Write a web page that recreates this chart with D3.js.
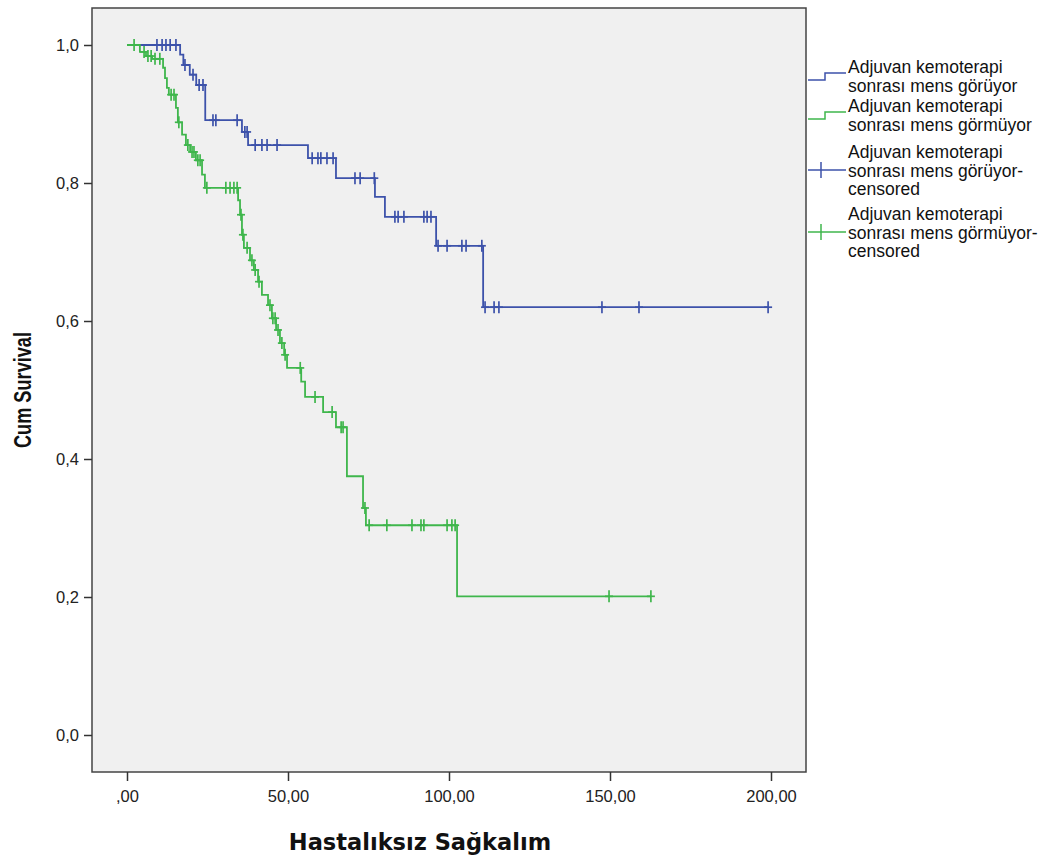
<!DOCTYPE html>
<html>
<head>
<meta charset="utf-8">
<script src="https://cdn.jsdelivr.net/npm/d3@7"></script>
<style>
  body { margin: 0; background: #fff; }
  svg { display: block; }
  .tick text { font-family: "Liberation Sans", Arial, sans-serif; font-size: 16.5px; fill: #222; }
  .tick line { stroke: #333; stroke-width: 1.5; }
  .leg { font-family: "Liberation Sans", Arial, sans-serif; font-size: 17.5px; fill: #111; }
</style>
</head>
<body>
<svg width="1061" height="862"></svg>
<script>

// axis ticks
var xTicks = [0, 50, 100, 150, 200];
var xTickLabels = [",00", "50,00", "100,00", "150,00", "200,00"];
var yTicks = [0, 0.2, 0.4, 0.6, 0.8, 1.0];
var yTickLabels = ["0,0", "0,2", "0,4", "0,6", "0,8", "1,0"];

// adjuvan kemoterapi sonrasi mens goruyor (blue) - event times / survival after event
var blueTimes = [16.5, 17.5, 19.5, 21.5, 24.3, 35.7, 37.6, 56.2, 64.9, 77.0, 80.1, 96.0, 110.6];
var blueSurv  = [0.986, 0.971, 0.957, 0.942, 0.891, 0.874, 0.855, 0.836, 0.807, 0.780, 0.751, 0.709, 0.620];
var blueCensor = [9.3, 10.9, 12.1, 13.4, 15.2, 18.0, 20.5, 22.4, 23.6, 26.7, 27.6, 34.2, 36.6, 37.3,
  39.8, 41.9, 43.5, 46.6, 57.5, 59.3, 60.2, 62.1, 64.0, 70.8, 72.4, 76.8, 83.2, 84.2, 86.0,
  92.2, 93.2, 94.4, 96.6, 99.4, 104.0, 105.3, 110.2, 111.2, 114.0, 115.5, 147.5, 159.0, 199.1];

// adjuvan kemoterapi sonrasi mens gormuyor (green)
var greenTimes = [4.0, 5.9, 7.8, 11.2, 11.8, 12.4, 13.0, 15.2, 15.8, 17.1, 18.3, 19.6, 21.4, 23.3, 24.2,
  34.5, 35.1, 35.7, 36.3, 38.2, 39.4, 40.7, 41.9, 43.8, 45.0, 46.3, 47.5, 48.8, 49.7, 54.1, 55.3,
  60.9, 64.9, 68.3, 73.3, 74.2, 102.5];
var greenSurv = [0.990, 0.984, 0.980, 0.967, 0.952, 0.938, 0.928, 0.909, 0.888, 0.870, 0.855, 0.845, 0.833, 0.812, 0.793,
  0.775, 0.754, 0.725, 0.706, 0.688, 0.674, 0.657, 0.638, 0.623, 0.604, 0.587, 0.568, 0.551, 0.532, 0.512, 0.490,
  0.468, 0.446, 0.375, 0.329, 0.304, 0.201];
var greenCensor = [2.2, 5.3, 6.5, 7.5, 8.7, 10.2, 13.7, 14.6, 16.1, 18.9, 20.2, 20.8, 22.0, 22.7,
  24.8, 30.7, 32.0, 33.2, 34.2, 35.4, 36.0, 37.3, 38.8, 39.8, 41.0, 44.4, 45.3, 46.0, 46.9, 48.1, 49.1,
  53.8, 58.4, 63.7, 66.5, 67.1, 73.9, 75.2, 80.7, 88.5, 91.3, 92.2, 99.4, 100.9, 101.9, 149.7, 162.7];

var legendLabels = [
  ["Adjuvan kemoterapi", "sonrası mens görüyor"],
  ["Adjuvan kemoterapi", "sonrası mens görmüyor"],
  ["Adjuvan kemoterapi", "sonrası mens görüyor-", "censored"],
  ["Adjuvan kemoterapi", "sonrası mens görmüyor-", "censored"]
];

var blue = "#3d52aa", green = "#3fb64c";

var svg = d3.select("svg");
var plot = {left: 92, right: 806, top: 8, bottom: 772};

var x = d3.scaleLinear().domain([0, 200]).range([127, 771]);
var y = d3.scaleLinear().domain([0, 1]).range([735, 45]);

// plot background + frame
svg.append("rect")
  .attr("x", plot.left).attr("y", plot.top)
  .attr("width", plot.right - plot.left).attr("height", plot.bottom - plot.top)
  .attr("fill", "#f0f0f0").attr("stroke", "#444").attr("stroke-width", 1.5);

// axes
var xAxis = svg.append("g")
  .attr("transform", "translate(0," + plot.bottom + ")")
  .call(d3.axisBottom(x).tickValues(xTicks).tickSize(9).tickPadding(9)
    .tickFormat(function(d, i) { return xTickLabels[i]; }));
xAxis.select(".domain").remove();

var yAxis = svg.append("g")
  .attr("transform", "translate(" + plot.left + ",0)")
  .call(d3.axisLeft(y).tickValues(yTicks).tickSize(8).tickPadding(5)
    .tickFormat(function(d, i) { return yTickLabels[i]; }));
yAxis.select(".domain").remove();

// axis titles
svg.append("text")
  .attr("x", 420).attr("y", 850)
  .attr("text-anchor", "middle")
  .style("font-family", "DejaVu Sans, sans-serif").style("font-weight", "bold").style("font-size", "22.5px")
  .attr("fill", "#111")
  .text("Hastalıksız Sağkalım");

svg.append("text")
  .attr("transform", "translate(31,390) rotate(-90)")
  .attr("text-anchor", "middle")
  .attr("textLength", 116).attr("lengthAdjust", "spacingAndGlyphs")
  .style("font-family", "Liberation Sans, Arial, sans-serif").style("font-weight", "bold").style("font-size", "23px")
  .attr("fill", "#111")
  .text("Cum Survival");

function survAt(times, surv, t) {
  var s = 1;
  for (var i = 0; i < times.length; i++) { if (times[i] <= t) s = surv[i]; }
  return s;
}

var line = d3.line()
  .x(function(d) { return x(d[0]); })
  .y(function(d) { return y(d[1]); })
  .curve(d3.curveStepAfter);

function drawGroup(times, surv, censor, colour) {
  var pts = [[0, 1]];
  times.forEach(function(t, i) { pts.push([t, surv[i]]); });
  var last = d3.max(censor.concat(times));
  pts.push([last, surv[surv.length - 1]]);

  var g = svg.append("g");
  g.append("path")
    .attr("d", line(pts))
    .attr("fill", "none").attr("stroke", colour).attr("stroke-width", 1.8);

  var marks = g.selectAll("g.cens").data(censor).enter().append("g").attr("class", "cens")
    .attr("transform", function(t) { return "translate(" + x(t) + "," + y(survAt(times, surv, t)) + ")"; });
  marks.append("line").attr("x1", 0).attr("x2", 0).attr("y1", -6).attr("y2", 6)
    .attr("stroke", colour).attr("stroke-width", 1.7);
  marks.append("line").attr("x1", -4).attr("x2", 4).attr("y1", 0).attr("y2", 0)
    .attr("stroke", colour).attr("stroke-width", 1.7);
}

drawGroup(blueTimes, blueSurv, blueCensor, blue);
drawGroup(greenTimes, greenSurv, greenCensor, green);

// legend
var legTop = [67, 106, 152, 214];
var legColours = [blue, green, blue, green];
legendLabels.forEach(function(lines, i) {
  var g = svg.append("g");
  var mid = legTop[i] + 9;
  if (i < 2) {
    g.append("path")
      .attr("d", "M808," + (mid + 4) + "H825V" + (mid - 3) + "H846")
      .attr("fill", "none").attr("stroke", legColours[i]).attr("stroke-width", 1.5);
  } else {
    var cy = legTop[i] + 18;
    g.append("line").attr("x1", 808).attr("x2", 846).attr("y1", cy).attr("y2", cy)
      .attr("stroke", legColours[i]).attr("stroke-width", 1.5);
    g.append("line").attr("x1", 821).attr("x2", 821).attr("y1", cy - 8).attr("y2", cy + 8)
      .attr("stroke", legColours[i]).attr("stroke-width", 1.5);
  }
  lines.forEach(function(txt, j) {
    g.append("text").attr("class", "leg")
      .attr("x", 848).attr("y", legTop[i] + 6 + j * 18.5)
      .text(txt);
  });
});

</script>
</body>
</html>
